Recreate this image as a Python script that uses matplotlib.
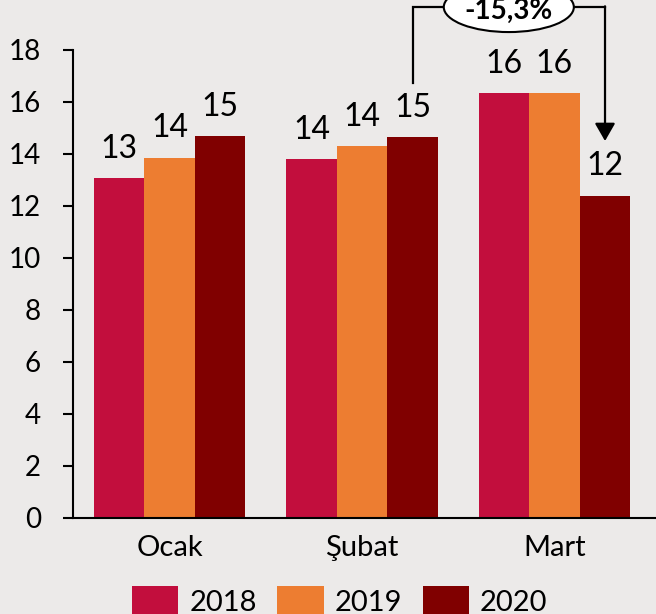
import numpy as np
import matplotlib
matplotlib.use("Agg")
import matplotlib.pyplot as plt
from matplotlib.patches import Ellipse, Patch

# dane
months = ["Ocak", "Şubat", "Mart"]
years = ["2018", "2019", "2020"]
values_2018 = [13.07, 13.81, 16.33]
values_2019 = [13.86, 14.31, 16.33]
values_2020 = [14.69, 14.64, 12.40]
change_label = "-15,3%"
y_ticks = [0, 2, 4, 6, 8, 10, 12, 14, 16, 18]

colors = ["#C20E3D", "#ED7D31", "#800000"]
background = "#ECEAE9"

plt.rcParams["font.family"] = ["Lato", "DejaVu Sans"]

fig = plt.figure(figsize=(6.56, 6.14), dpi=100, facecolor=background)
ax = fig.add_axes([73 / 656, 1 - 518 / 614, 1 - 73 / 656, (518 - 50) / 614])
ax.set_facecolor(background)

x = np.arange(len(months))
bar_width = 0.263
series = [values_2018, values_2019, values_2020]

for i, (vals, color) in enumerate(zip(series, colors)):
    pos = x + (i - 1) * bar_width
    ax.bar(pos, vals, width=bar_width, color=color, edgecolor="none")
    for px, v in zip(pos, vals):
        ax.text(px, v + 0.55, f"{v:.0f}", ha="center", va="bottom",
                fontsize=23, color="black")

ax.set_xlim(-0.502, 2.528)
ax.set_ylim(0, 18)
ax.set_yticks(y_ticks)
ax.set_xticks(x)
ax.set_xticklabels(months, fontsize=21)
ax.tick_params(axis="y", labelsize=20, length=7, width=1.5, pad=16, color="black")
ax.tick_params(axis="x", length=0, pad=12)

for side in ["top", "right"]:
    ax.spines[side].set_visible(False)
ax.spines["left"].set_linewidth(1.5)
ax.spines["bottom"].set_linewidth(1.5)

# strzałka zmiany Şubat 2020 -> Mart 2020
x_start = x[1] + bar_width
x_end = x[2] + bar_width
y_top = 19.65
ax.plot([x_start, x_start, x_end], [values_2020[1] + 2.1, y_top, y_top],
        color="black", linewidth=1.6, clip_on=False, solid_joinstyle="miter")
ax.annotate("", xy=(x_end, values_2020[2] + 2.1), xytext=(x_end, y_top + 0.03),
            arrowprops=dict(arrowstyle="-|>,head_length=0.54,head_width=0.31",
                            mutation_scale=20, color="black", linewidth=1.6,
                            shrinkA=0, shrinkB=0),
            annotation_clip=False)
mid = (x_start + x_end) / 2
ax.add_patch(Ellipse((mid, y_top), 0.676, 1.92, facecolor="white",
                     edgecolor="black", linewidth=1.5, clip_on=False, zorder=5))
ax.text(mid, y_top - 0.15, change_label, ha="center", va="center",
        fontsize=20, fontweight="bold", zorder=6, clip_on=False)

handles = [Patch(facecolor=c, edgecolor="none") for c in colors]
fig.legend(handles, years, loc="center", bbox_to_anchor=(0.518, 0.021),
           ncol=3, frameon=False, fontsize=21, handlelength=1.58,
           handleheight=1.2, handletextpad=0.38, columnspacing=0.7,
           borderpad=0)

fig.savefig("out.png", dpi=100, facecolor=background)
